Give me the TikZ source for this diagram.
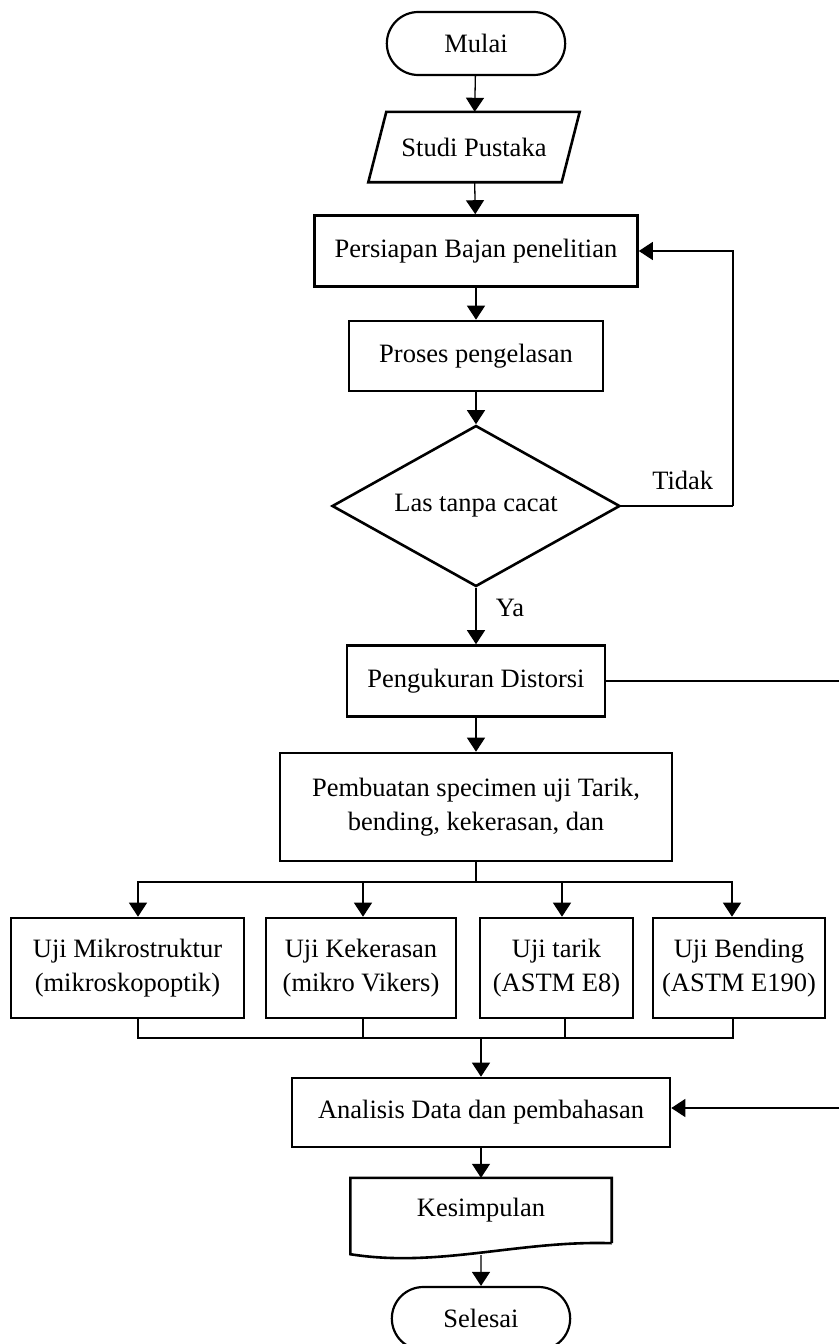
\documentclass[tikz,border=0pt]{standalone}
\usepackage{fontspec}
\setmainfont{Liberation Serif}
\usetikzlibrary{arrows.meta,shapes.geometric,shapes.misc,positioning,calc}

\begin{document}
\begin{tikzpicture}[x=1pt,y=-1pt,
    font=\fontsize{26.5}{34}\selectfont,
    kotak/.style={draw, line width=2.6pt, rectangle, inner sep=2pt, align=center},
    terminal/.style={draw, line width=2.2pt, rounded rectangle, minimum width=185, minimum height=63},
    arr/.style={line width=1.3pt, -{Triangle[length=14pt,width=18pt]}},
    garis/.style={line width=1.3pt}]
    \useasboundingbox (0,0) rectangle (839,1344);

    \node[terminal] (mulai) at (476,43.5) {Mulai};
    \node[minimum width=193, minimum height=70, inner sep=0pt] (studi) at (474,147) {Studi Pustaka};
    \draw[line width=2.6pt] ($(studi.north west)+(9,0)$) -- ($(studi.north east)+(9,0)$)
    -- ($(studi.south east)+(-9,0)$) -- ($(studi.south west)+(-9,0)$) -- cycle;
    \node[kotak, minimum width=323, minimum height=71] (persiapan) at (476,251) {Persiapan Bajan penelitian};
    \node[kotak, minimum width=254, minimum height=70] (proses) at (476,356) {Proses pengelasan};
    \node[draw, line width=2.6pt, diamond, aspect=1.79, minimum width=288, minimum height=161, inner sep=0pt]
    (cek) at (476,506) {Las tanpa cacat};
    \coordinate (balik) at (733,506);
    \node[kotak, minimum width=258, minimum height=71] (ukur) at (476,681) {Pengukuran Distorsi};
    \coordinate (tepi1) at (839,681);
    \node[kotak, minimum width=392, minimum height=108] (buat) at (476,807)
    {Pembuatan specimen uji Tarik,\\bending, kekerasan, dan};
    \coordinate (bagi) at (476,882);

    \node[kotak, minimum width=233, minimum height=100] (uji1) at (127.5,968) {Uji Mikrostruktur\\(mikroskopoptik)};
    \node[kotak, minimum width=190, minimum height=100] (uji2) at (361,968) {Uji Kekerasan\\(mikro Vikers)};
    \node[kotak, minimum width=153, minimum height=100] (uji3) at (556.5,968) {Uji tarik\\(ASTM E8)};
    \node[kotak, minimum width=172, minimum height=100] (uji4) at (739,968) {Uji Bending\\(ASTM E190)};
    \coordinate (kumpul) at (481,1038);

    \node[kotak, minimum width=378, minimum height=69] (analisis) at (481,1112.5) {Analisis Data dan pembahasan};
    \coordinate (tepi2) at (839,1108);
    \node[minimum width=261, minimum height=65, inner sep=0pt] (kes) at (481,1210.5) {Kesimpulan};
    \node[terminal] (selesai) at (481,1318.5) {Selesai};

    \draw[line width=2.6pt] (kes.south east) -- (kes.north east) -- (kes.north west)
    -- ([yshift=-11pt]kes.south west) .. controls +(88,14) and +(-93,-3) .. (kes.south east);

    \draw[arr] (mulai) -- (studi);
    \draw[arr] (studi) -- (persiapan);
    \draw[arr] (persiapan) -- (proses);
    \draw[arr] (proses) -- (cek);
    \draw[garis] (cek) -- node[above=12pt, pos=.55] {Tidak} (balik);
    \draw[arr] (balik) |- (persiapan);
    \draw[arr] (cek) -- node[right=16pt, pos=.35] {Ya} (ukur);
    \draw[garis] (ukur) -- (tepi1);
    \draw[arr] (ukur) -- (buat);
    \draw[garis] (buat) -- (bagi);
    \draw[arr] (bagi) -| ([xshift=10.5pt]uji1.north);
    \draw[arr] (bagi) -| ([xshift=2pt]uji2.north);
    \draw[arr] (bagi) -| ([xshift=5.5pt]uji3.north);
    \draw[arr] (bagi) -| ([xshift=-7pt]uji4.north);
    \draw[garis] ([xshift=10.5pt]uji1.south) |- (kumpul);
    \draw[garis] ([xshift=2pt]uji2.south) |- (kumpul);
    \draw[garis] ([xshift=8.5pt]uji3.south) |- (kumpul);
    \draw[garis] ([xshift=-6pt]uji4.south) |- (kumpul);
    \draw[arr] (kumpul) -- (analisis);
    \draw[arr] (tepi2) -- (tepi2 -| analisis.east);
    \draw[arr] (analisis) -- (kes);
    \draw[arr] ([yshift=-12pt]kes.south) -- (selesai);
\end{tikzpicture}
\end{document}
